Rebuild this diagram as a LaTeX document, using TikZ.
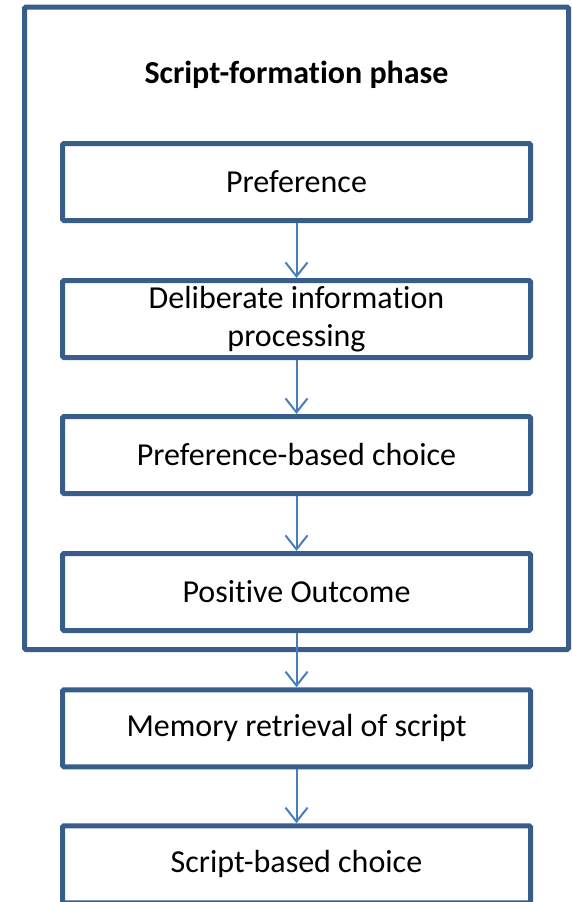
\documentclass[tikz,border=0pt]{standalone}
\usepackage{fontspec}
\setmainfont[Ligatures=NoCommon]{Carlito}
\usetikzlibrary{arrows.meta}
\definecolor{boxblue}{HTML}{385D8A}
\definecolor{arrowblue}{HTML}{4A7EBB}
\begin{document}
\begin{tikzpicture}[x=1pt,y=-1pt,
  stepbox/.style={draw=boxblue,line width=5pt,rounded corners=1.5pt,
    minimum width=468pt,minimum height=77pt,inner sep=0pt,
    font=\fontsize{32}{38}\selectfont,align=center},
  outerbox/.style={draw=boxblue,line width=5pt,rounded corners=1.5pt,
    minimum width=544pt,minimum height=642.5pt,inner sep=0pt},
  flow/.style={draw=arrowblue,line width=2pt,
    -{Straight Barb[length=14pt,width=22pt,line width=2pt]}}]
\useasboundingbox (0,0) rectangle (572,902);
\node[outerbox] (outer) at (296.5,328.25) {};
\node[font=\fontsize{32}{38}\selectfont\bfseries] (title) at (296.5,75) {Script-formation phase};
\node[stepbox] (pref) at (296.5,182) {Preference};
\node[stepbox] (delib) at (296.5,319) {Deliberate information\\processing};
\node[stepbox] (pbc) at (296.5,455) {Preference-based choice};
\node[stepbox] (pos) at (296.5,592) {Positive Outcome};
\node[stepbox] (mem) at (296.5,728.25) {Memory retrieval of script};
\node[stepbox] (sbc) at (296.5,864.25) {Script-based choice};
\draw[flow] (pref.south) -- (delib.north);
\draw[flow] (delib.south) -- (pbc.north);
\draw[flow] (pbc.south) -- (pos.north);
\draw[flow] (pos.south) -- (mem.north);
\draw[flow] (mem.south) -- (sbc.north);
\end{tikzpicture}
\end{document}
